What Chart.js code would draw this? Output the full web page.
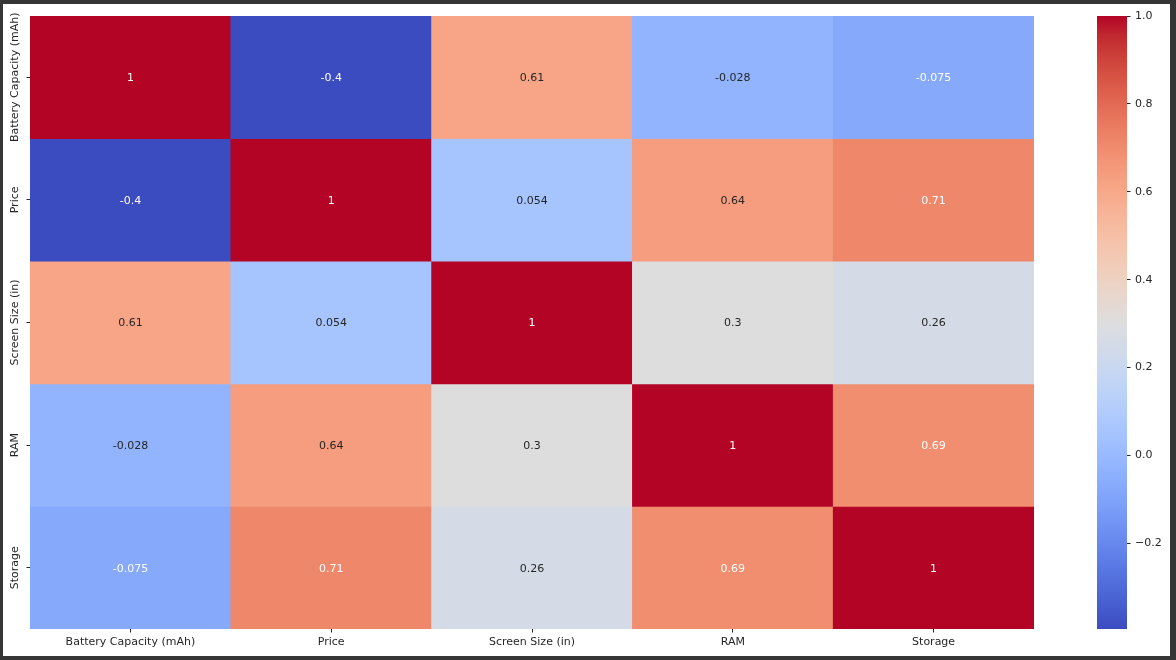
<!DOCTYPE html>
<html><head><meta charset="utf-8">
<script src="https://cdn.jsdelivr.net/npm/chart.js@4.4.1/dist/chart.umd.min.js"></script>
<style>
html,body{margin:0;padding:0;background:#363636;width:1176px;height:660px;overflow:hidden;}
#frame{position:absolute;left:3px;top:4px;width:1167px;height:652px;background:#fff;}
#heat{position:absolute;left:0;top:0;width:1040px;height:652px;}
#cbar{position:absolute;left:1057px;top:0;width:110px;height:652px;}
</style></head><body>
<div id="frame"><canvas id="heat" width="1040" height="652"></canvas><canvas id="cbar" width="110" height="652"></canvas></div>
<script>
// ---- data ----
const categories = ['Battery Capacity (mAh)', 'Price', 'Screen Size (in)', 'RAM', 'Storage'];
const rowBattery = [1, -0.4, 0.61, -0.028, -0.075];
const rowPrice   = [-0.4, 1, 0.054, 0.64, 0.71];
const rowScreen  = [0.61, 0.054, 1, 0.3, 0.26];
const rowRAM     = [-0.028, 0.64, 0.3, 1, 0.69];
const rowStorage = [-0.075, 0.71, 0.26, 0.69, 1];
const matrix = [rowBattery, rowPrice, rowScreen, rowRAM, rowStorage];
const colorbarTicks = [-0.2, 0.0, 0.2, 0.4, 0.6, 0.8, 1.0];
const vmin = -0.395, vmax = 1.0;

// ---- coolwarm colormap ----
const coolwarm = [
[59,76,192],[68,90,204],[77,104,215],[87,117,225],[98,130,234],[108,142,241],[119,154,247],[130,165,251],
[141,176,254],[152,185,255],[163,194,255],[174,201,253],[184,208,249],[194,213,244],[204,217,238],[213,219,230],
[221,221,221],[229,216,209],[236,211,197],[241,204,184],[245,196,172],[247,187,160],[247,177,148],[247,166,135],
[244,154,123],[241,141,111],[236,127,99],[229,112,88],[222,96,77],[213,80,66],[203,62,56],[192,40,47],[180,4,38]];
function cw(t){
  t = Math.max(0, Math.min(1, t));
  const f = t * (coolwarm.length - 1), i = Math.min(Math.floor(f), coolwarm.length - 2), u = f - i;
  return coolwarm[i].map((a, k) => a + (coolwarm[i+1][k] - a) * u);
}
const norm = v => (v - vmin) / (vmax - vmin);
const rgbStr = c => `rgb(${Math.round(c[0])},${Math.round(c[1])},${Math.round(c[2])})`;
function textColor(v){
  const c = cw(norm(v)).map(x => { x /= 255; return x <= 0.03928 ? x / 12.92 : Math.pow((x + 0.055) / 1.055, 2.4); });
  const lum = 0.2126 * c[0] + 0.7152 * c[1] + 0.0722 * c[2];
  return lum > 0.408 ? '#262626' : '#ffffff';
}
const FONT = '"DejaVu Sans", sans-serif';
const FS = 11;
const INK = '#262626';

const annot = {
  id: 'annot',
  afterDatasetsDraw(chart){
    const {ctx, scales: {x, y}} = chart;
    ctx.save();
    ctx.font = FS + 'px ' + FONT;
    ctx.textAlign = 'center';
    ctx.textBaseline = 'middle';
    matrix.forEach((row, r) => row.forEach((v, c) => {
      ctx.fillStyle = textColor(v);
      ctx.fillText(String(v), x.getPixelForValue(c), y.getPixelForValue(r + 0.5) + 1);
    }));
    // rotated y-axis category labels
    ctx.fillStyle = INK;
    categories.forEach((lab, r) => {
      ctx.save();
      ctx.translate(chart.chartArea.left - 15, y.getPixelForValue(r + 0.5));
      ctx.rotate(-Math.PI / 2);
      ctx.fillText(lab, 0, 0);
      ctx.restore();
    });
    ctx.restore();
  }
};

new Chart(document.getElementById('heat'), {
  type: 'bar',
  data: {
    labels: categories,
    datasets: matrix.map((row, r) => ({
      data: row.map(() => [r, r + 1]),
      backgroundColor: row.map(v => rgbStr(cw(norm(v)))),
      borderWidth: 0, barPercentage: 1, categoryPercentage: 1, grouped: false
    }))
  },
  options: {
    responsive: false, animation: false, devicePixelRatio: 1,
    layout: {padding: {top: 12, right: 9, left: 0, bottom: 0}},
    plugins: {legend: {display: false}, tooltip: {enabled: false}},
    scales: {
      x: {
        type: 'category', offset: true,
        grid: {display: true, drawOnChartArea: false, offset: false, tickLength: 3.5, color: INK},
        border: {display: false},
        ticks: {font: {family: FONT, size: FS}, color: INK, padding: 3, maxRotation: 0, autoSkip: false},
        afterFit: s => { s.height = 27; }
      },
      y: {
        type: 'linear', min: 0, max: 5, reverse: true,
        afterBuildTicks: s => { s.ticks = categories.map((_, i) => ({value: i + 0.5})); },
        ticks: {display: false},
        grid: {display: true, drawOnChartArea: false, tickLength: 3.5, color: INK},
        border: {display: false},
        afterFit: s => { s.width = 27; }
      }
    }
  },
  plugins: [annot]
});

new Chart(document.getElementById('cbar'), {
  type: 'bar',
  data: {
    labels: ['cb'],
    datasets: [{
      data: [[vmin, vmax]],
      backgroundColor: (ctx) => {
        const ca = ctx.chart.chartArea;
        if (!ca) return '#dddddd';
        const g = ctx.chart.ctx.createLinearGradient(0, ca.bottom, 0, ca.top);
        coolwarm.forEach((c, i) => g.addColorStop(i / (coolwarm.length - 1), rgbStr(c)));
        return g;
      },
      borderWidth: 0, barPercentage: 1, categoryPercentage: 1
    }]
  },
  options: {
    responsive: false, animation: false, devicePixelRatio: 1,
    layout: {padding: {top: 12, right: 0, left: 37, bottom: 27}},
    plugins: {legend: {display: false}, tooltip: {enabled: false}},
    scales: {
      x: {display: false},
      y: {
        type: 'linear', position: 'right', min: vmin, max: vmax,
        afterBuildTicks: s => { s.ticks = colorbarTicks.map(v => ({value: v})); },
        ticks: {font: {family: FONT, size: FS}, color: INK, padding: 4.5,
          callback: v => (v < 0 ? '\u2212' : '') + Math.abs(v).toFixed(1)},
        grid: {display: true, drawOnChartArea: false, tickLength: 3.5, color: INK},
        border: {display: false},
        afterFit: s => { s.width = 43; }
      }
    }
  }
});
</script>
</body></html>
